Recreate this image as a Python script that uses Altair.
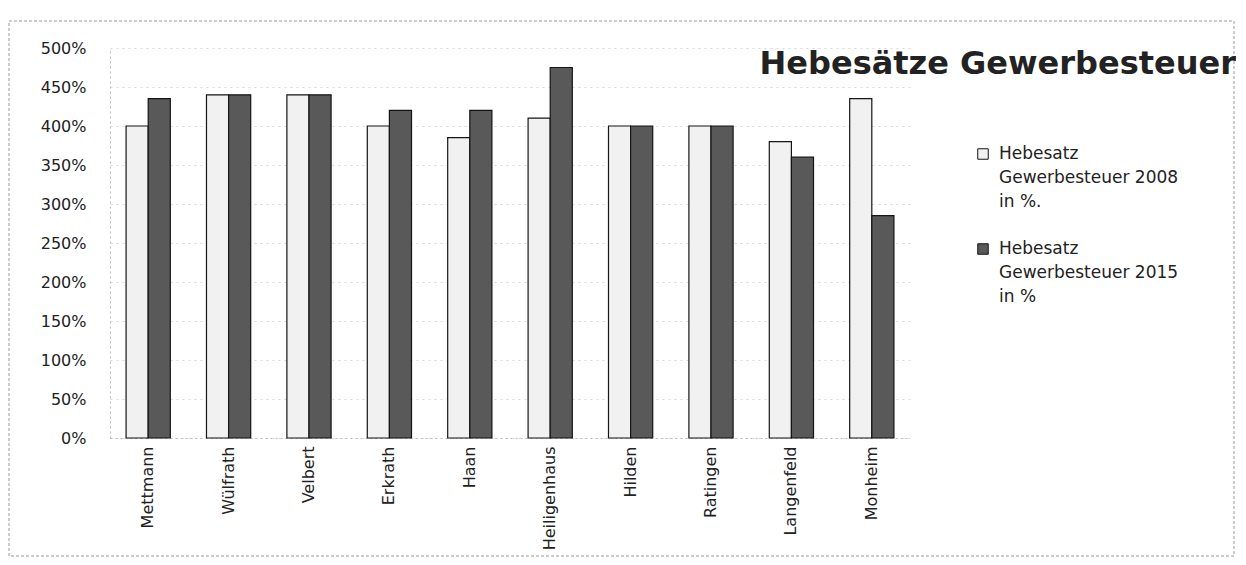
import altair as alt
import pandas as pd

FONT = "DejaVu Sans"

cities = ["Mettmann", "Wülfrath", "Velbert", "Erkrath", "Haan",
          "Heiligenhaus", "Hilden", "Ratingen", "Langenfeld", "Monheim"]
rate_2008 = [400, 440, 440, 400, 385, 410, 400, 400, 380, 435]
rate_2015 = [435, 440, 440, 420, 420, 475, 400, 400, 360, 285]
series = ["Hebesatz|Gewerbesteuer 2008|in %.", "Hebesatz|Gewerbesteuer 2015|in %"]
series_colors = ["#f1f1f1", "#595959"]
y_ticks = [0, 50, 100, 150, 200, 250, 300, 350, 400, 450, 500]
title_text = "Hebesätze Gewerbesteuer"

rows = []
for c, a, b in zip(cities, rate_2008, rate_2015):
    rows.append({"Stadt": c, "Serie": series[0], "Wert": a})
    rows.append({"Stadt": c, "Serie": series[1], "Wert": b})
df = pd.DataFrame(rows)
one = pd.DataFrame({"k": [0]})

bars = alt.Chart(df).mark_bar(stroke="#151515", strokeWidth=1.2).encode(
    x=alt.X("Stadt:N", sort=cities,
            scale=alt.Scale(paddingInner=0.45),
            axis=alt.Axis(title=None, labelAngle=-90, labelFontSize=16,
                          labelPadding=8, ticks=False, labelFont=FONT,
                          labelColor="#222", domainColor="#bbbbbb",
                          domainDash=[2, 3])),
    xOffset=alt.XOffset("Serie:N", sort=series),
    y=alt.Y("Wert:Q", scale=alt.Scale(domain=[0, 500]),
            axis=alt.Axis(values=y_ticks, labelExpr="datum.value + '%'",
                          title=None, ticks=False, labelPadding=24,
                          labelFontSize=16, labelFont=FONT, labelColor="#222",
                          gridDash=[2, 4], gridColor="#d8d8d8",
                          domainDash=[2, 3], domainColor="#bbbbbb")),
    color=alt.Color("Serie:N", sort=series,
                    scale=alt.Scale(domain=series, range=series_colors),
                    legend=None),
)

title = alt.Chart(one).mark_text(
    align="right", baseline="alphabetic", fontSize=32, fontWeight="bold",
    font=FONT, color="#222", text=title_text
).encode(x=alt.value(1126), y=alt.value(26))

legend_layers = []
for i, s in enumerate(series):
    legend_layers.append(
        alt.Chart(one).mark_square(size=110, filled=True, fill=series_colors[i],
                                   stroke="#151515", strokeWidth=1, opacity=1)
        .encode(x=alt.value(873), y=alt.value(106 + 95 * i))
    )
    legend_layers.append(
        alt.Chart(one).mark_text(align="left", baseline="top", fontSize=17,
                                 lineHeight=24, font=FONT, color="#222",
                                 text=s.split("|"))
        .encode(x=alt.value(889), y=alt.value(98 + 95 * i))
    )

frame = alt.Chart(one).mark_rect(fillOpacity=0, stroke="#9a9a9a",
                                 strokeWidth=1, strokeDash=[3, 2]).encode(
    x=alt.value(-101), x2=alt.value(1124), y=alt.value(-27), y2=alt.value(508)
)

chart = alt.layer(frame, bars, title, *legend_layers).properties(
    width=800, height=390,
    padding={"left": 0, "top": 12, "right": 0, "bottom": 0},
).configure_view(stroke=None)

chart.save("out.html", embed_options={"renderer": "svg", "actions": False})
